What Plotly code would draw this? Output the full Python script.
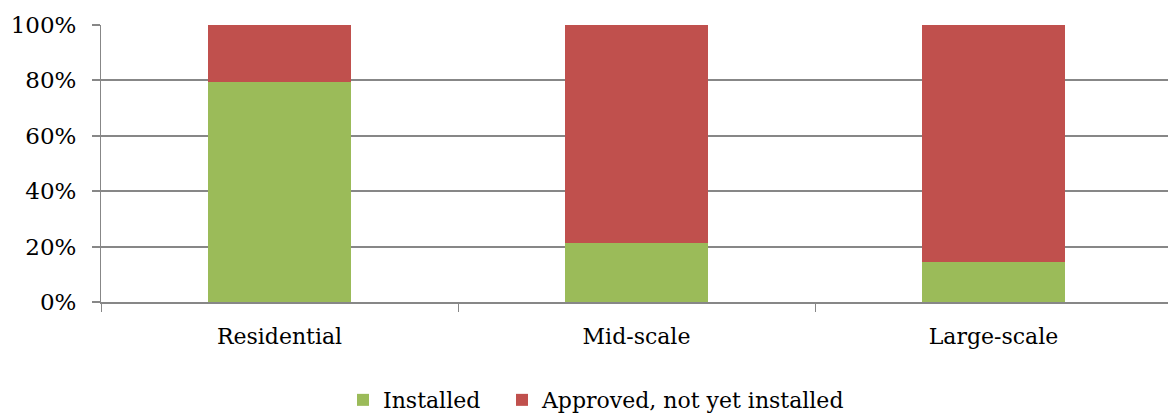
import plotly.graph_objects as go

categories = ["Residential", "Mid-scale", "Large-scale"]
installed = [0.795, 0.213, 0.144]
approved = [1 - v for v in installed]
tick_vals = [0, 0.2, 0.4, 0.6, 0.8, 1.0]
tick_text = ["0%", "20%", "40%", "60%", "80%", "100%"]

FONT = "DejaVu Serif"
GRID = "#878787"

fig = go.Figure()
fig.add_trace(go.Bar(name="Installed", x=categories, y=installed, legend="legend",
                     marker=dict(color="#9BBB59", line=dict(width=0)), width=0.4))
fig.add_trace(go.Bar(name="Approved, not yet installed", x=categories, y=approved,
                     legend="legend2",
                     marker=dict(color="#C0504D", line=dict(width=0)), width=0.4))

leg_common = dict(orientation="h", xanchor="left", y=-0.354, yanchor="middle",
                  font=dict(family=FONT, size=22), itemwidth=30, bgcolor="rgba(0,0,0,0)")

fig.update_layout(
    barmode="stack",
    width=1168, height=414,
    margin=dict(l=101, r=0, t=25, b=112, autoexpand=False),
    paper_bgcolor="white", plot_bgcolor="white",
    font=dict(family=FONT, size=22, color="#000000"),
    showlegend=True,
    legend=dict(x=0.2268, **leg_common),
    legend2=dict(x=0.3758, **leg_common),
    xaxis=dict(range=[-0.5, 2.5 - 4 / 357], tickson="boundaries", ticks="outside",
               ticklen=8, tickcolor=GRID, showline=True, linecolor=GRID, linewidth=2,
               showgrid=False, tickfont=dict(family=FONT, size=22), automargin=False,
               ticklabelstandoff=14),
    yaxis=dict(range=[0, 1], tickvals=tick_vals, ticktext=tick_text, ticks="outside",
               ticklen=8, tickcolor=GRID, tickwidth=2, showline=True, linecolor=GRID, linewidth=1,
               showgrid=True, gridcolor=GRID, gridwidth=2, zeroline=False,
               tickfont=dict(family=FONT, size=23), automargin=False, ticklabelstandoff=11),
    bargap=0.6,
)

fig.write_html("out.html", config={"displayModeBar": False},
               post_script="document.body.style.margin='0px';document.body.style.overflow='hidden';")
